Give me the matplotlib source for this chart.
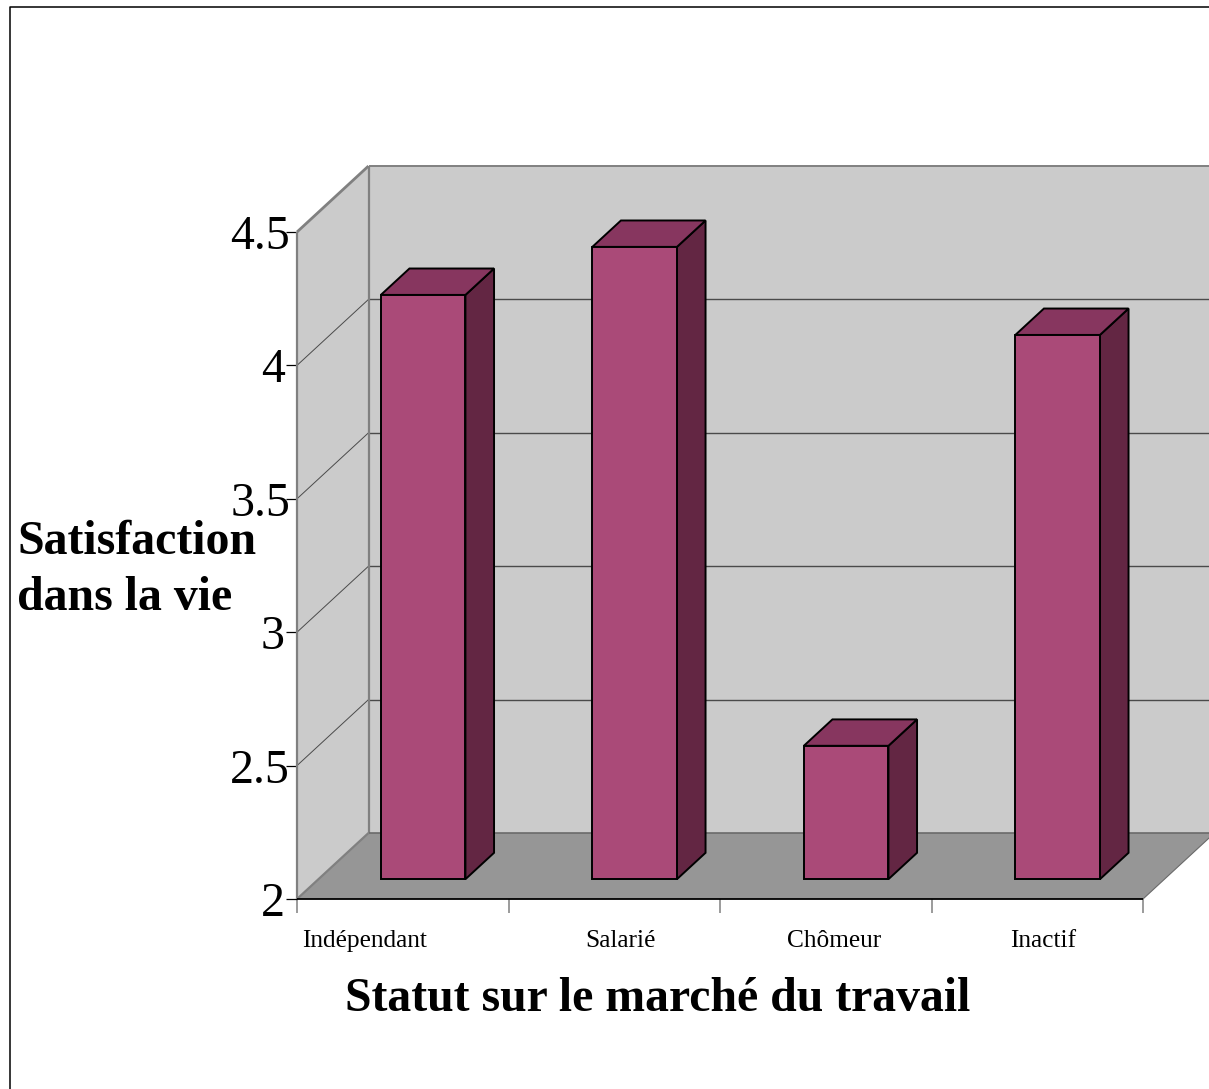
import matplotlib
matplotlib.use('Agg')
import matplotlib.pyplot as plt
from matplotlib.lines import Line2D
from matplotlib.patches import Polygon
from matplotlib.transforms import ScaledTranslation

plt.rcParams['font.family'] = ['Liberation Serif', 'DejaVu Sans']

categories = ['Indépendant', 'Salarié', 'Chômeur', 'Inactif']
values = [4.19, 4.37, 2.50, 4.04]
label_positions = [0.32, 1.53, 2.54, 3.53]
y_ticks = [2, 2.5, 3, 3.5, 4, 4.5]
y_tick_labels = ['2', '2.5', '3', '3.5', '4', '4.5']
x_ticks = [0, 1, 2, 3, 4]

W, H = 1209, 1089
LEFT, RIGHT, TOP, BOTTOM = 297, 1143, 232, 899

# size of the fake depth, in data units
DEPTH_X = 71.5 / ((RIGHT - LEFT) / 4)
DEPTH_Y = 66 / ((BOTTOM - TOP) / 2.5)

WALL = '#cbcbcb'
FLOOR = '#969696'
EDGE = '#808080'
GRID = '#4a4a4a'
BAR_FRONT = '#aa4a78'
BAR_TOP = '#87365f'
BAR_SIDE = '#632643'


def proj(x, y, depth):
    # move a point backwards along the oblique depth direction
    return (x + depth * DEPTH_X, y + depth * DEPTH_Y)


def face(ax, points, color, edge='none', lw=0.0, zorder=1):
    ax.add_patch(Polygon(points, closed=True, facecolor=color, edgecolor=edge,
                         linewidth=lw, zorder=zorder, clip_on=False, joinstyle='miter'))


def line(ax, p, q, color, lw, zorder=2):
    ax.plot([p[0], q[0]], [p[1], q[1]], color=color, linewidth=lw, zorder=zorder,
            clip_on=False, solid_capstyle='butt')


fig = plt.figure(figsize=(W / 100, H / 100), dpi=100, facecolor='white')
ax = fig.add_axes([LEFT / W, 1 - BOTTOM / H, (RIGHT - LEFT) / W, (BOTTOM - TOP) / H])
ax.set_xlim(0, 4)
ax.set_ylim(2, 4.5)
ax.patch.set_visible(False)
for spine in ax.spines.values():
    spine.set_visible(False)

# walls and floor
face(ax, [proj(0, 2, 0), proj(0, 4.5, 0), proj(0, 4.5, 1), proj(0, 2, 1)], WALL)
face(ax, [proj(0, 2, 1), proj(0, 4.5, 1), proj(4, 4.5, 1), proj(4, 2, 1)], WALL)
face(ax, [proj(0, 2, 0), proj(4, 2, 0), proj(4, 2, 1), proj(0, 2, 1)], FLOOR)

# grid on the side wall and back wall
for tick in y_ticks[1:-1]:
    line(ax, proj(0, tick, 0), proj(0, tick, 1), GRID, 0.7)
    line(ax, proj(0, tick, 1), proj(4, tick, 1), GRID, 1.0)

# wall outlines
line(ax, proj(0, 2, 0), proj(0, 4.5, 0), EDGE, 1.6)
line(ax, proj(0, 2, 1), proj(0, 4.5, 1), EDGE, 1.6)
line(ax, proj(0, 4.5, 0), proj(0, 4.5, 1), EDGE, 2.0)
line(ax, proj(0, 4.5, 1), proj(4, 4.5, 1), EDGE, 1.4)
line(ax, proj(0, 2, 0), proj(0, 2, 1), EDGE, 1.6)
line(ax, proj(0, 2, 1), proj(4, 2, 1), '#6a6a6a', 1.2)
line(ax, proj(4, 2, 0), proj(4, 2, 1), '#6a6a6a', 0.8)
line(ax, proj(0, 2, 0), proj(4, 2, 0), 'black', 1.3, zorder=3)

# bars
D0, D1 = 0.30, 0.70
BAR_W = 0.40
for i, val in enumerate(values):
    x0 = i + 0.495 - BAR_W / 2
    x1 = x0 + BAR_W
    face(ax, [proj(x1, 2, D0), proj(x1, 2, D1), proj(x1, val, D1), proj(x1, val, D0)],
         BAR_SIDE, 'black', 1.4, zorder=4)
    face(ax, [proj(x0, val, D0), proj(x1, val, D0), proj(x1, val, D1), proj(x0, val, D1)],
         BAR_TOP, 'black', 1.4, zorder=4)
    face(ax, [proj(x0, 2, D0), proj(x1, 2, D0), proj(x1, val, D0), proj(x0, val, D0)],
         BAR_FRONT, 'black', 1.4, zorder=5)

# axes ticks and labels
ax.set_yticks(y_ticks, labels=y_tick_labels)
ax.tick_params(axis='y', length=8, width=0.9, color='black', pad=-3, labelsize=34.5)
ax.set_xticks(x_ticks, labels=[])
ax.tick_params(axis='x', which='major', length=10, width=1.1, color=EDGE)
ax.set_xticks(label_positions, labels=categories, minor=True)
ax.tick_params(axis='x', which='minor', length=0, pad=22, labelsize=18.3)

# whole-number labels sit a little further left
for label in ax.get_yticklabels():
    if '.' not in label.get_text():
        label.set_transform(label.get_transform() + ScaledTranslation(-4 / 72, 0, fig.dpi_scale_trans))

fig.text(657.5 / W, 1 - 999 / H, 'Statut sur le marché du travail', fontsize=34.4,
         fontweight='bold', ha='center', va='center')
fig.text(17 / W, 1 - 570 / H, 'Satisfaction\ndans la vie', fontsize=34.5,
         fontweight='bold', ha='left', va='center', linespacing=1.33)

# outer frame, runs off the right and bottom of the picture
fig.add_artist(Line2D([10 / W, 10 / W, 1], [0, 1 - 7 / H, 1 - 7 / H], color='black', linewidth=1.1))

fig.savefig('out.png', dpi=100)
